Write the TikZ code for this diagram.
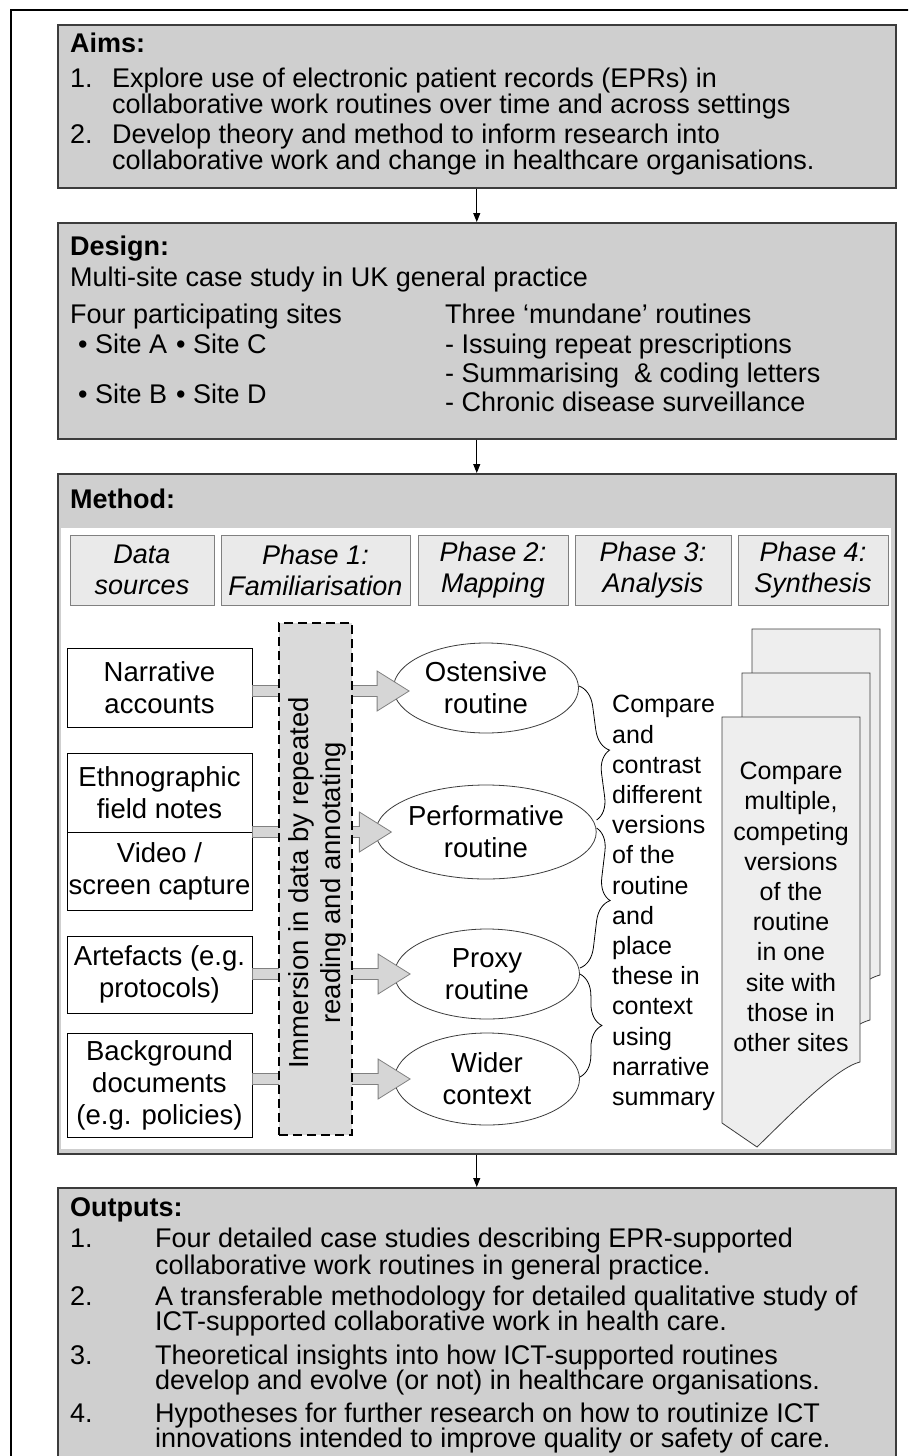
\documentclass[tikz,border=0pt]{standalone}
\usepackage{fontspec}
\setmainfont{Liberation Sans}
\usetikzlibrary{decorations.pathreplacing,arrows.meta,shapes.geometric,calc}
\definecolor{boxgray}{RGB}{207,207,207}
\definecolor{phasegray}{RGB}{234,234,234}
\definecolor{docgray}{RGB}{238,238,238}
\definecolor{dashgray}{RGB}{218,218,218}
\definecolor{edgegray}{RGB}{60,60,60}
\definecolor{arrowgray}{RGB}{214,214,214}
\newcommand{\mainfs}{\fontsize{27}{27}\selectfont}
\newcommand{\srcfs}{\fontsize{27.5}{32}\selectfont}
\newcommand{\smallfs}{\fontsize{25}{30.2}\selectfont}
\newcommand{\blockarr}[2]{%
  \filldraw[barrow] let \p1=(#1), \p2=(#2) in
  (\x1,\y2+5.5pt) -- (\x2-32pt,\y2+5.5pt) -- (\x2-32pt,\y2+20pt) -- (\x2,\y2)
  -- (\x2-32pt,\y2-20pt) -- (\x2-32pt,\y2-5.5pt) -- (\x1,\y2-5.5pt) -- cycle;}
\begin{document}
\begin{tikzpicture}[x=1pt,y=-1pt,
  mainbox/.style={draw=edgegray,line width=1.5pt,fill=boxgray,anchor=north west,inner sep=0,minimum width=838pt},
  txt/.style={anchor=west,inner sep=0,font=\mainfs,text height=19.5pt,text depth=5.5pt},
  ttl/.style={txt,font=\mainfs\bfseries},
  arr/.style={line width=1pt,-{Triangle[length=9pt,width=7pt]}},
  phase/.style={draw=gray,fill=phasegray,line width=1pt,inner sep=0,minimum height=70pt,align=center,font=\fontsize{27}{31}\selectfont\itshape},
  src/.style={draw=black,fill=white,line width=1pt,inner sep=0,minimum width=185pt,align=center,font=\srcfs},
  ell/.style={ellipse,draw=edgegray,line width=0.8pt,fill=white,inner sep=0,minimum width=185pt,minimum height=90pt,align=center,font=\srcfs},
  barrow/.style={fill=arrowgray,draw=gray,line width=0.8pt},
  dashbox/.style={draw=black,dashed,dash pattern=on 9pt off 5pt,line width=1.5pt,fill=dashgray,inner sep=0,minimum width=73pt,minimum height=512pt},
  doc/.style={fill=docgray,draw=edgegray,line width=0.8pt},
  brc/.style={decorate,decoration={brace,amplitude=22pt},line width=0.8pt}]
\useasboundingbox (0,0) rectangle (908,1456);
\clip (0,0) rectangle (908,1456);
\fill[white] (0,0) rectangle (908,1456);
\draw[line width=1.5pt] (11,10) rectangle (940,1500);

% main boxes
\node[mainbox,minimum height=163pt] (aims) at (57,24) {};
\node[mainbox,minimum height=216pt] (design) at (57,222) {};
\node[mainbox,minimum height=680pt] (method) at (57,473) {};
\node[mainbox,minimum height=320pt] (outputs) at (57,1187) {};
\draw[arr] (aims.south) -- (design.north);
\draw[arr] (design.south) -- (method.north);
\draw[arr] (method.south) -- (outputs.north);

% Aims
\node[ttl] (aimsT) at (70,45) {Aims:};
\node[txt] (a1n) at (70,80) {1.};
\node[txt] (a1a) at (112,80) {Explore use of electronic patient records (EPRs) in};
\node[txt] (a1b) at (112,106) {collaborative work routines over time and across settings};
\node[txt] (a2n) at (70,136) {2.};
\node[txt] (a2a) at (112,136) {Develop theory and method to inform research into};
\node[txt] (a2b) at (112,162) {collaborative work and change in healthcare organisations.};

% Design
\node[ttl] (desT) at (70,248) {Design:};
\node[txt] (d1) at (70,279) {Multi-site case study in UK general practice};
\node[txt] (d2) at (70,316) {Four participating sites};
\node[txt] (sA) at (78,346) {\textbullet\ Site A};
\node[txt] (sC) at (176,346) {\textbullet\ Site C};
\node[txt] (sB) at (78,396) {\textbullet\ Site B};
\node[txt] (sD) at (176,396) {\textbullet\ Site D};
\node[txt] (r0) at (445,316) {Three ‘mundane’ routines};
\node[txt] (r1) at (445,346) {- Issuing repeat prescriptions};
\node[txt] (r2) at (445,375) {- Summarising \ \& coding letters};
\node[txt] (r3) at (445,404) {- Chronic disease surveillance};

% Method
\node[ttl] (metT) at (70,501) {Method:};
\fill[white] (61,528) rectangle (891,1149);
\node[phase,minimum width=144pt] (ph0) at (142,570) {Data\\sources};
\node[phase,minimum width=189pt] (ph1) at (315.5,570) {Phase 1:\\Familiarisation};
\node[phase,minimum width=150pt] (ph2) at (493,570) {Phase 2:\\Mapping};
\node[phase,minimum width=156pt] (ph3) at (653,570) {Phase 3:\\Analysis};
\node[phase,minimum width=150pt] (ph4) at (813,570) {Phase 4:\\Synthesis};

% data sources
\node[src,minimum height=79pt] (narr) at (159.5,687.5) {Narrative\\accounts};
\node[src,minimum height=79pt] (ethno) at (159.5,792.5) {Ethnographic\\field notes};
\node[src,minimum height=78pt] (video) at (159.5,871) {Video /\\screen capture};
\node[src,minimum height=77pt] (artef) at (159.5,974.5) {Artefacts (e.g.\\protocols)};
\node[src,minimum height=104pt] (backg) at (159.5,1085) {Background\\documents\\(e.g. policies)};

% ellipses
\node[ell] (ost) at (486,688) {Ostensive\\routine};
\node[ell,minimum height=94pt] (perf) at (486,832) {Performative\\routine};
\node[ell] (proxy) at (487,974) {Proxy\\routine};
\node[ell,minimum height=92pt] (wider) at (487,1079) {Wider\\context};

% block arrows
\blockarr{narr.east}{$(ost.west)+(16,3)$}
\blockarr{ethno.south east}{$(perf.west)+(16,0)$}
\blockarr{artef.east}{$(proxy.west)+(16,0)$}
\blockarr{backg.east}{$(wider.west)+(16,0)$}

% immersion box
\node[dashbox] (imm) at (315.5,879) {};
\node[rotate=90,align=center,inner sep=0,font=\srcfs] (immT) at (317,883) {Immersion in data by repeated\\reading and annotating};

% braces
\draw[brc] ($(ost.east)+(0,-2)$) -- ($(perf.east)+(0,-12)$);
\draw[brc] ($(perf.east)+(0,-4)$) -- ($(proxy.east)+(0,-6)$);
\draw[brc] ($(proxy.east)+(0,0)$) -- ($(wider.east)+(0,-2)$);

\node[anchor=west,align=left,inner sep=0,font=\smallfs] (cmp) at (612,903)
 {Compare\\and\\contrast\\different\\versions\\of the\\routine\\and\\place\\these in\\context\\using\\narrative\\summary};

% documents
\filldraw[doc] (752,1035) -- (752,629) -- (880,629) -- (880,975) .. controls (855,981) and (805,1033) .. (777,1059) -- cycle;
\filldraw[doc] (742,1079) -- (742,673) -- (870,673) -- (870,1020) .. controls (845,1026) and (795,1078) .. (767,1103) -- cycle;
\filldraw[doc] (722,1123) -- (722,717) -- (860,717) -- (860,1062) .. controls (835,1068) and (785,1120) .. (757,1147) -- cycle;
\node[align=center,inner sep=0,font=\smallfs] (docT) at (791,907)
 {Compare\\multiple,\\competing\\versions\\of the\\routine\\in one\\site with\\those in\\other sites};

% Outputs
\node[ttl] (outT) at (70,1209) {Outputs:};
\node[txt] (o1n) at (70,1240) {1.};
\node[txt] (o1a) at (155,1240) {Four detailed case studies describing EPR-supported};
\node[txt] (o1b) at (155,1267) {collaborative work routines in general practice.};
\node[txt] (o2n) at (70,1298) {2.};
\node[txt] (o2a) at (155,1298) {A transferable methodology for detailed qualitative study of};
\node[txt] (o2b) at (155,1323) {ICT-supported collaborative work in health care.};
\node[txt] (o3n) at (70,1357) {3.};
\node[txt] (o3a) at (155,1357) {Theoretical insights into how ICT-supported routines};
\node[txt] (o3b) at (155,1382) {develop and evolve (or not) in healthcare organisations.};
\node[txt] (o4n) at (70,1415) {4.};
\node[txt] (o4a) at (155,1415) {Hypotheses for further research on how to routinize ICT};
\node[txt] (o4b) at (155,1440) {innovations intended to improve quality or safety of care.};
\end{tikzpicture}
\end{document}
